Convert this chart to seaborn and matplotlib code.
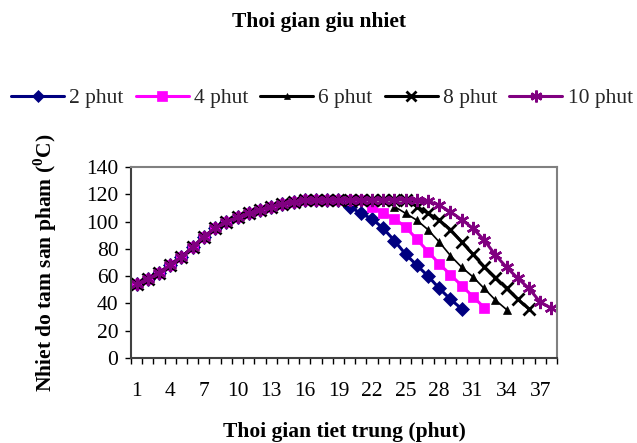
import matplotlib
matplotlib.use("Agg")
import matplotlib.pyplot as plt
import seaborn as sns
import pandas as pd
import numpy as np

sns.set_theme(style="white")
plt.rcParams['font.family'] = ['Liberation Serif', 'DejaVu Serif']
plt.rcParams['mathtext.fontset'] = 'custom'
plt.rcParams['mathtext.rm'] = 'Liberation Serif'
plt.rcParams['mathtext.bf'] = 'Liberation Serif:bold'

title = "Thoi gian giu nhiet"
x_label = "Thoi gian tiet trung (phut)"
y_label = r"Nhiet do tam san pham ($^{\mathbf{0}}$C)"

series_names = ["2 phut", "4 phut", "6 phut", "8 phut", "10 phut"]

t_2 = [54, 58, 62, 68, 74, 81, 89, 95, 100, 103, 106, 108.5, 111, 113, 114.5, 115.5, 116, 116, 116,
       111, 106, 102, 95, 86, 76, 68, 60, 51, 43, 36]
t_4 = [54, 58, 62, 68, 74, 81, 89, 95, 100, 103, 106, 108.5, 111, 113, 114.5, 115.5, 116, 116, 116,
       116, 116, 111, 106, 102, 96, 87, 78, 69, 61, 53, 45, 37]
t_6 = [54, 58, 62, 68, 74, 81, 89, 95, 100, 103, 106, 108.5, 111, 113, 114.5, 115.5, 116, 116, 116,
       116, 116, 116, 116, 111, 106, 101, 94, 85, 75, 66.5, 59.5, 51, 42.5, 35.5]
t_8 = [54, 58, 62, 68, 74, 81, 89, 95, 100, 103, 106, 108.5, 111, 113, 114.5, 115.5, 116, 116, 116,
       116, 116, 116, 116, 116, 116, 111, 106, 101, 94, 85, 76, 67, 59, 51, 43, 36]
t_10 = [54, 58, 62, 68, 74, 81, 89, 95, 100, 103, 106, 108.5, 111, 113, 114.5, 115.5, 116, 116, 116,
        116, 116, 116, 116, 116, 116, 116, 115, 112, 107, 101.5, 95, 86.5, 75.5, 66.5, 58.5, 51, 41, 36.5]

all_series = [t_2, t_4, t_6, t_8, t_10]
x_ticklabels = [str(v) for v in range(1, 38, 3)]

colors = ["#000080", "#FF00FF", "#000000", "#000000", "#800080"]
markers = ["D", "s", "^", "x", (6, 2, 0)]
msizes = [7, 7.5, 5.5, 8.5, 9.5]
mews = [0.5, 0.5, 0.5, 2.0, 1.8]
lws = [2.2, 2.2, 1.2, 2.2, 2.2]

rows = []
for name, vals in zip(series_names, all_series):
    for i, v in enumerate(vals):
        rows.append({"series": name, "minute": i + 1, "temp": v})
df = pd.DataFrame(rows)

FS = 15.5

fig = plt.figure(figsize=(6.37, 4.43), dpi=100)
ax = fig.add_axes([131/637, 1-358/443, (557-131)/637, (358-167)/443])

for name, c, m, ms, mew, lw in zip(series_names, colors, markers, msizes, mews, lws):
    sub = df[df["series"] == name]
    sns.lineplot(data=sub, x="minute", y="temp", ax=ax, color=c, marker=m,
                 markersize=ms, markeredgecolor=c, markerfacecolor=c,
                 markeredgewidth=mew, linewidth=lw, label=name, legend=False)

ax.set_xlim(0.5, 38.5)
ax.set_ylim(0, 140)
ax.set_yticks(np.arange(0, 141, 20))
ax.set_xticks(np.arange(1, 38, 3))
ax.set_xticklabels(x_ticklabels)
ax.set_xticks(np.arange(0.5, 38.6, 1), minor=True)
ax.tick_params(axis="x", which="major", length=0, pad=17, labelsize=FS)
ax.tick_params(axis="x", which="minor", length=4, width=1, color="black", direction="out", bottom=True)
ax.tick_params(axis="y", which="major", length=4, width=1, color="black", direction="out", left=True, labelsize=FS, pad=5)
for lab in ax.get_xticklabels() + ax.get_yticklabels():
    lab.set_color("black")

for side in ["top", "right"]:
    ax.spines[side].set_color("#808080")
    ax.spines[side].set_linewidth(1.5)
for side in ["left", "bottom"]:
    ax.spines[side].set_color("#404040")
    ax.spines[side].set_linewidth(1.5)

ax.set_xlabel(x_label, fontsize=FS, fontweight="bold", color="black")
ax.set_ylabel(y_label, fontsize=FS, fontweight="bold", color="black")
ax.xaxis.set_label_coords(0.5, -(432 - 358) / (358 - 167), transform=ax.transAxes)
ax.xaxis.label.set_va("center")
ax.yaxis.set_label_coords(-(131 - 45) / (557 - 131), 0.5, transform=ax.transAxes)
ax.yaxis.label.set_va("center")

fig.text(0.5, 1 - 22/443, title, ha="center", va="center", fontsize=FS, fontweight="bold", color="black")

handles, labels = ax.get_legend_handles_labels()
leg = fig.legend(handles, labels, loc="center", bbox_to_anchor=(322/637, 1 - 98/443), ncol=5,
                 frameon=False, fontsize=FS, handlelength=2.45, columnspacing=0.56, handletextpad=0.25,
                 borderaxespad=0, borderpad=0)
leg_sizes = [6, 6.5, 4.5, 7.5, 8.5]
for ln, s in zip(leg.get_lines(), leg_sizes):
    ln.set_markersize(s)
    ln.set_linewidth(2.2)

fig.savefig("out.png", dpi=100, facecolor="white")
